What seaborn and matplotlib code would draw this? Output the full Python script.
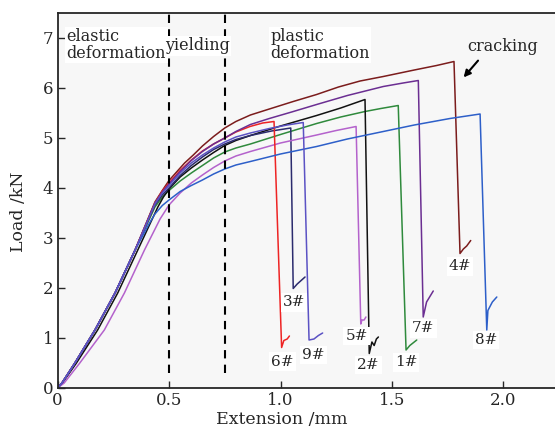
import matplotlib
matplotlib.use("Agg")
import matplotlib.pyplot as plt
import seaborn as sns
import pandas as pd

# specimen load-extension traces (mm, kN)
spec_names = ["1#", "2#", "3#", "4#", "5#", "6#", "7#", "8#", "9#"]
spec_colors = ["#2f8a3c", "#111111", "#2b2b6e", "#7b1c1c", "#b462cc",
               "#ee2424", "#6b2e92", "#2d5fc9", "#5b52c4"]

ext_1 = [0, 0.02, 0.078, 0.168, 0.258, 0.348, 0.437, 0.47, 0.5, 0.55, 0.6, 0.65, 0.7, 0.75, 0.8, 0.865, 1.0, 1.162, 1.27, 1.379, 1.45, 1.528,
         1.563, 1.58, 1.611]
load_1 = [0, 0.1, 0.5, 1.16, 1.9, 2.76, 3.62, 3.82, 3.95, 4.14, 4.3, 4.45, 4.6, 4.72, 4.8, 4.88, 5.07, 5.29, 5.42, 5.53, 5.59, 5.65,
          0.76, 0.85, 0.96]
ext_2 = [0, 0.022, 0.085, 0.18, 0.27, 0.36, 0.45, 0.475, 0.5, 0.55, 0.6, 0.65, 0.7, 0.75, 0.8, 0.865, 1.0, 1.162, 1.27, 1.379,
         1.398, 1.41, 1.42, 1.43, 1.439]
load_2 = [0, 0.1, 0.5, 1.16, 1.9, 2.76, 3.62, 3.82, 3.98, 4.22, 4.4, 4.56, 4.71, 4.85, 4.95, 5.05, 5.24, 5.45, 5.6, 5.77,
          0.69, 0.92, 0.85, 0.98, 1.02]
ext_3 = [0, 0.02, 0.078, 0.168, 0.258, 0.348, 0.437, 0.47, 0.5, 0.55, 0.6, 0.65, 0.7, 0.75, 0.8, 0.865, 0.96, 1.046,
         1.057, 1.075, 1.09, 1.11]
load_3 = [0, 0.1, 0.5, 1.16, 1.9, 2.76, 3.66, 3.86, 4.0, 4.25, 4.45, 4.62, 4.77, 4.88, 4.97, 5.05, 5.14, 5.2,
          1.99, 2.08, 2.14, 2.22]
ext_4 = [0, 0.02, 0.078, 0.168, 0.258, 0.348, 0.437, 0.47, 0.5, 0.534, 0.57, 0.609, 0.65, 0.7, 0.75, 0.8, 0.865, 0.95, 1.057, 1.162,
         1.26, 1.357, 1.461, 1.6, 1.7, 1.778, 1.805, 1.82, 1.835, 1.853]
load_4 = [0, 0.1, 0.5, 1.16, 1.9, 2.76, 3.72, 3.95, 4.15, 4.32, 4.5, 4.66, 4.84, 5.03, 5.2, 5.33, 5.46, 5.58, 5.73, 5.87,
          6.02, 6.14, 6.23, 6.36, 6.45, 6.53, 2.69, 2.78, 2.84, 2.95]
ext_5 = [0, 0.03, 0.1, 0.21, 0.3, 0.39, 0.46, 0.5, 0.55, 0.6, 0.65, 0.7, 0.75, 0.8, 0.865, 1.0, 1.162, 1.25, 1.339,
         1.36, 1.365, 1.375, 1.383]
load_5 = [0, 0.1, 0.5, 1.16, 1.9, 2.76, 3.38, 3.66, 3.9, 4.1, 4.26, 4.41, 4.54, 4.64, 4.73, 4.9, 5.06, 5.15, 5.23,
          1.28, 1.36, 1.36, 1.42]
ext_6 = [0, 0.02, 0.078, 0.168, 0.258, 0.348, 0.437, 0.47, 0.5, 0.55, 0.6, 0.65, 0.7, 0.75, 0.8, 0.863, 0.92, 0.971,
         1.005, 1.015, 1.03, 1.04]
load_6 = [0, 0.1, 0.5, 1.16, 1.9, 2.76, 3.7, 3.94, 4.1, 4.35, 4.56, 4.74, 4.88, 5.0, 5.12, 5.23, 5.3, 5.33,
          0.81, 0.95, 0.98, 1.04]
ext_7 = [0, 0.02, 0.078, 0.168, 0.258, 0.348, 0.437, 0.47, 0.5, 0.55, 0.6, 0.65, 0.7, 0.75, 0.8, 0.865, 0.95, 1.05, 1.162,
         1.3, 1.461, 1.55, 1.618, 1.64, 1.655, 1.685]
load_7 = [0, 0.1, 0.5, 1.16, 1.9, 2.76, 3.7, 3.92, 4.08, 4.33, 4.55, 4.73, 4.88, 5.0, 5.13, 5.27, 5.39, 5.52, 5.67,
          5.85, 6.03, 6.1, 6.15, 1.42, 1.72, 1.94]
ext_8 = [0, 0.02, 0.078, 0.168, 0.258, 0.348, 0.41, 0.437, 0.47, 0.5, 0.55, 0.6, 0.65, 0.7, 0.75, 0.8, 0.865, 1.0, 1.162,
         1.3, 1.461, 1.6, 1.76, 1.895, 1.925, 1.93, 1.95, 1.97]
load_8 = [0, 0.1, 0.5, 1.16, 1.9, 2.76, 3.28, 3.48, 3.65, 3.76, 3.93, 4.05, 4.16, 4.28, 4.38, 4.46, 4.53, 4.68, 4.83,
          4.98, 5.13, 5.26, 5.39, 5.48, 1.16, 1.55, 1.72, 1.82]
ext_9 = [0, 0.02, 0.078, 0.168, 0.258, 0.348, 0.437, 0.47, 0.5, 0.55, 0.6, 0.65, 0.7, 0.75, 0.8, 0.865, 0.95, 1.03, 1.102,
         1.128, 1.15, 1.17, 1.189]
load_9 = [0, 0.1, 0.5, 1.16, 1.9, 2.76, 3.68, 3.9, 4.05, 4.3, 4.5, 4.66, 4.8, 4.92, 5.02, 5.1, 5.19, 5.26, 5.31,
          0.96, 0.98, 1.05, 1.1]

spec_ext = [ext_1, ext_2, ext_3, ext_4, ext_5, ext_6, ext_7, ext_8, ext_9]
spec_load = [load_1, load_2, load_3, load_4, load_5, load_6, load_7, load_8, load_9]

# where each specimen tag sits
tag_x = [1.563, 1.394, 1.06, 1.805, 1.342, 1.008, 1.64, 1.922, 1.147]
tag_y = [0.51, 0.46, 1.71, 2.43, 1.04, 0.53, 1.19, 0.96, 0.66]

stage_bounds = [0.5, 0.75]

frames = []
for name, xs, ys in zip(spec_names, spec_ext, spec_load):
    frames.append(pd.DataFrame({"ext": xs, "load": ys, "specimen": name}))
df = pd.concat(frames, ignore_index=True)

sns.set_style("ticks")
plt.rcParams['font.family'] = ['DejaVu Serif']
plt.rcParams['xtick.direction'] = 'in'
plt.rcParams['ytick.direction'] = 'in'

fig = plt.figure(figsize=(5.55, 4.37), dpi=100)
ax = fig.add_axes([57.5 / 555, 49 / 437, (555 - 57.5) / 555, 375 / 437])
ax.set_facecolor("#f7f7f7")

for name, col in zip(spec_names, spec_colors):
    sub = df[df["specimen"] == name]
    sns.lineplot(data=sub, x="ext", y="load", color=col, sort=False,
                 estimator=None, linewidth=1.1, ax=ax)

for b in stage_bounds:
    ax.plot([b, b], [0.3, 7.5], color="black", linestyle=(0, (4, 3)), linewidth=1.5)

for name, tx, ty in zip(spec_names, tag_x, tag_y):
    ax.text(tx, ty, name, ha="center", va="center", fontsize=11,
            bbox=dict(fc="white", ec="none", pad=1.5))

ax.text(0.041, 7.2, "elastic\ndeformation", ha="left", va="top", fontsize=11.5,
        linespacing=1.0, bbox=dict(fc="white", ec="none", pad=1))
ax.text(0.628, 6.84, "yielding", ha="center", va="center", fontsize=11.5,
        bbox=dict(fc="white", ec="none", pad=1))
ax.text(0.953, 7.2, "plastic\ndeformation", ha="left", va="top", fontsize=11.5,
        linespacing=1.0, bbox=dict(fc="white", ec="none", pad=1))
ax.text(1.995, 6.83, "cracking", ha="center", va="center", fontsize=11.5)
ax.annotate("", xy=(1.813, 6.17), xytext=(1.894, 6.59),
            arrowprops=dict(arrowstyle="-|>", color="black", lw=1.5, mutation_scale=10))

ax.set_xlim(0, (555 - 57.5) / 223)
ax.set_ylim(0, 7.5)
ax.set_xticks([0, 0.5, 1.0, 1.5, 2.0])
ax.set_xticklabels(["0", "0.5", "1.0", "1.5", "2.0"])
ax.set_yticks(range(8))
ax.tick_params(labelsize=12, length=5, width=1, pad=3)
ax.set_xlabel("Extension /mm", fontsize=12.5)
ax.set_ylabel("Load /kN", fontsize=12.5)
ax.xaxis.set_label_coords(0.451, -0.062)
ax.yaxis.set_label_coords(-0.062, 0.47)
ax.spines["right"].set_visible(False)
for s in ["left", "top", "bottom"]:
    ax.spines[s].set_linewidth(1.3)

fig.savefig("out.png", dpi=100, facecolor="white")
